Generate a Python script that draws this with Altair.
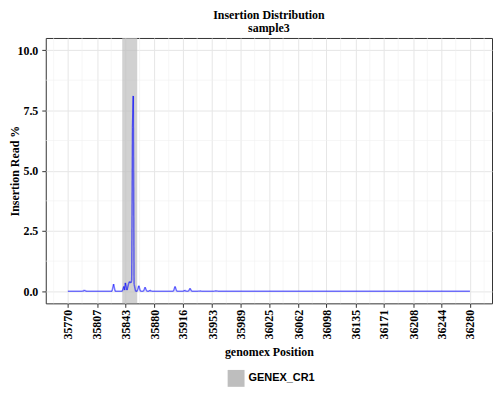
import altair as alt
import pandas as pd

# ---- data ----
positions = [35770, 35789, 35791, 35793, 35826, 35828, 35830, 35839, 35841, 35842,
             35843, 35845, 35847, 35848, 35850, 35851, 35852, 35853, 35854, 35856,
             35858, 35860, 35862, 35866, 35868, 35870, 35873, 35874, 35876, 35904,
             35906, 35908, 35917, 35918, 35920, 35923, 35925, 35927, 35936, 35937,
             35939, 35956, 35958, 35960, 36280]
read_pct = [0, 0, 0.05, 0, 0, 0.3, 0, 0, 0.2, 0.05,
            0.35, 0.05, 0.3, 0.4, 0.35, 0.45, 6.8, 8.1, 0.3, 0,
            0, 0.23, 0, 0, 0.17, 0, 0, 0.05, 0, 0,
            0.2, 0, 0, 0.05, 0, 0, 0.12, 0, 0, 0.02,
            0, 0, 0.02, 0, 0]

x_ticks = [35770, 35807, 35843, 35880, 35916, 35953, 35989, 36025,
           36062, 36098, 36135, 36171, 36208, 36244, 36280]
x_minor = [35752, 35788, 35825, 35861, 35898, 35934, 35971, 36007,
           36043, 36080, 36116, 36153, 36189, 36226, 36262, 36298]
y_ticks = [0, 2.5, 5, 7.5, 10]
y_minor = [1.25, 3.75, 6.25, 8.75]

region_name = ["GENEX_CR1"]
region_start = [35839]
region_end = [35858]

x_domain = [35742, 36308]
y_domain = [-0.5, 10.5]

# ---- tables ----
seg = pd.DataFrame({
    "x": positions[:-1], "x2": positions[1:],
    "y": read_pct[:-1], "y2": read_pct[1:],
})
reg = pd.DataFrame({"region": region_name, "start": region_start, "end": region_end})
xm = pd.DataFrame({"x": x_minor})
ym = pd.DataFrame({"y": y_minor})

SERIF = "Liberation Serif"
xscale = alt.Scale(domain=x_domain, nice=False, zero=False)
yscale = alt.Scale(domain=y_domain, nice=False, zero=False)

xaxis = alt.Axis(values=x_ticks, labelAngle=-90, format="d",
                 labelOverlap=False, labelPadding=2,
                 title="genomex Position", titleY=52,
                 titleBaseline="alphabetic")
yaxis = alt.Axis(values=y_ticks, format=".1f", title="Insertion Read %",
                 titleX=-24, labelPadding=4)

minor_x = alt.Chart(xm).mark_rule(color="#f0f0f0", strokeWidth=0.6).encode(
    x=alt.X("x:Q", scale=xscale, axis=xaxis))
minor_y = alt.Chart(ym).mark_rule(color="#f0f0f0", strokeWidth=0.6).encode(
    y=alt.Y("y:Q", scale=yscale, axis=yaxis))

band = alt.Chart(reg).mark_rect(opacity=0.7).encode(
    x=alt.X("start:Q", scale=xscale, axis=xaxis),
    x2="end:Q",
    color=alt.Color("region:N", scale=alt.Scale(range=["#bebebe"]),
                    legend=alt.Legend(title=None, orient="none", legendX=183,
                                      legendY=334, symbolType="square",
                                      symbolSize=289, symbolOpacity=1,
                                      symbolStrokeWidth=0,
                                      labelFont="Liberation Sans",
                                      labelFontWeight="bold", labelFontSize=11,
                                      labelColor="#000000", padding=0)),
)

line = alt.Chart(seg).mark_rule(color="#0000ff", opacity=0.55, strokeWidth=1.5,
                                strokeCap="butt").encode(
    x=alt.X("x:Q", scale=xscale, axis=xaxis),
    x2="x2:Q",
    y=alt.Y("y:Q", scale=yscale, axis=yaxis),
    y2="y2:Q",
)

chart = alt.layer(minor_x, minor_y, band, line).properties(
    width=449, height=267,
    autosize=alt.AutoSizeParams(type="none"),
    padding={"left": 38, "top": 29, "right": 3, "bottom": 83},
    title=alt.Title(["Insertion Distribution", "sample3"], font=SERIF,
                    fontSize=12, fontWeight="bold", anchor="middle",
                    lineHeight=13, offset=3, color="#000000"),
).configure_view(
    stroke="#333333", strokeWidth=1
).configure_axis(
    labelFont=SERIF, labelFontSize=12, labelFontWeight="bold", labelColor="#000000",
    titleFont=SERIF, titleFontSize=12, titleFontWeight="bold", titleColor="#000000",
    gridColor="#e6e6e6", gridWidth=1, domain=False, tickColor="#333333",
    tickSize=4,
)

chart.save("out.html", embed_options={"renderer": "svg", "actions": False})
